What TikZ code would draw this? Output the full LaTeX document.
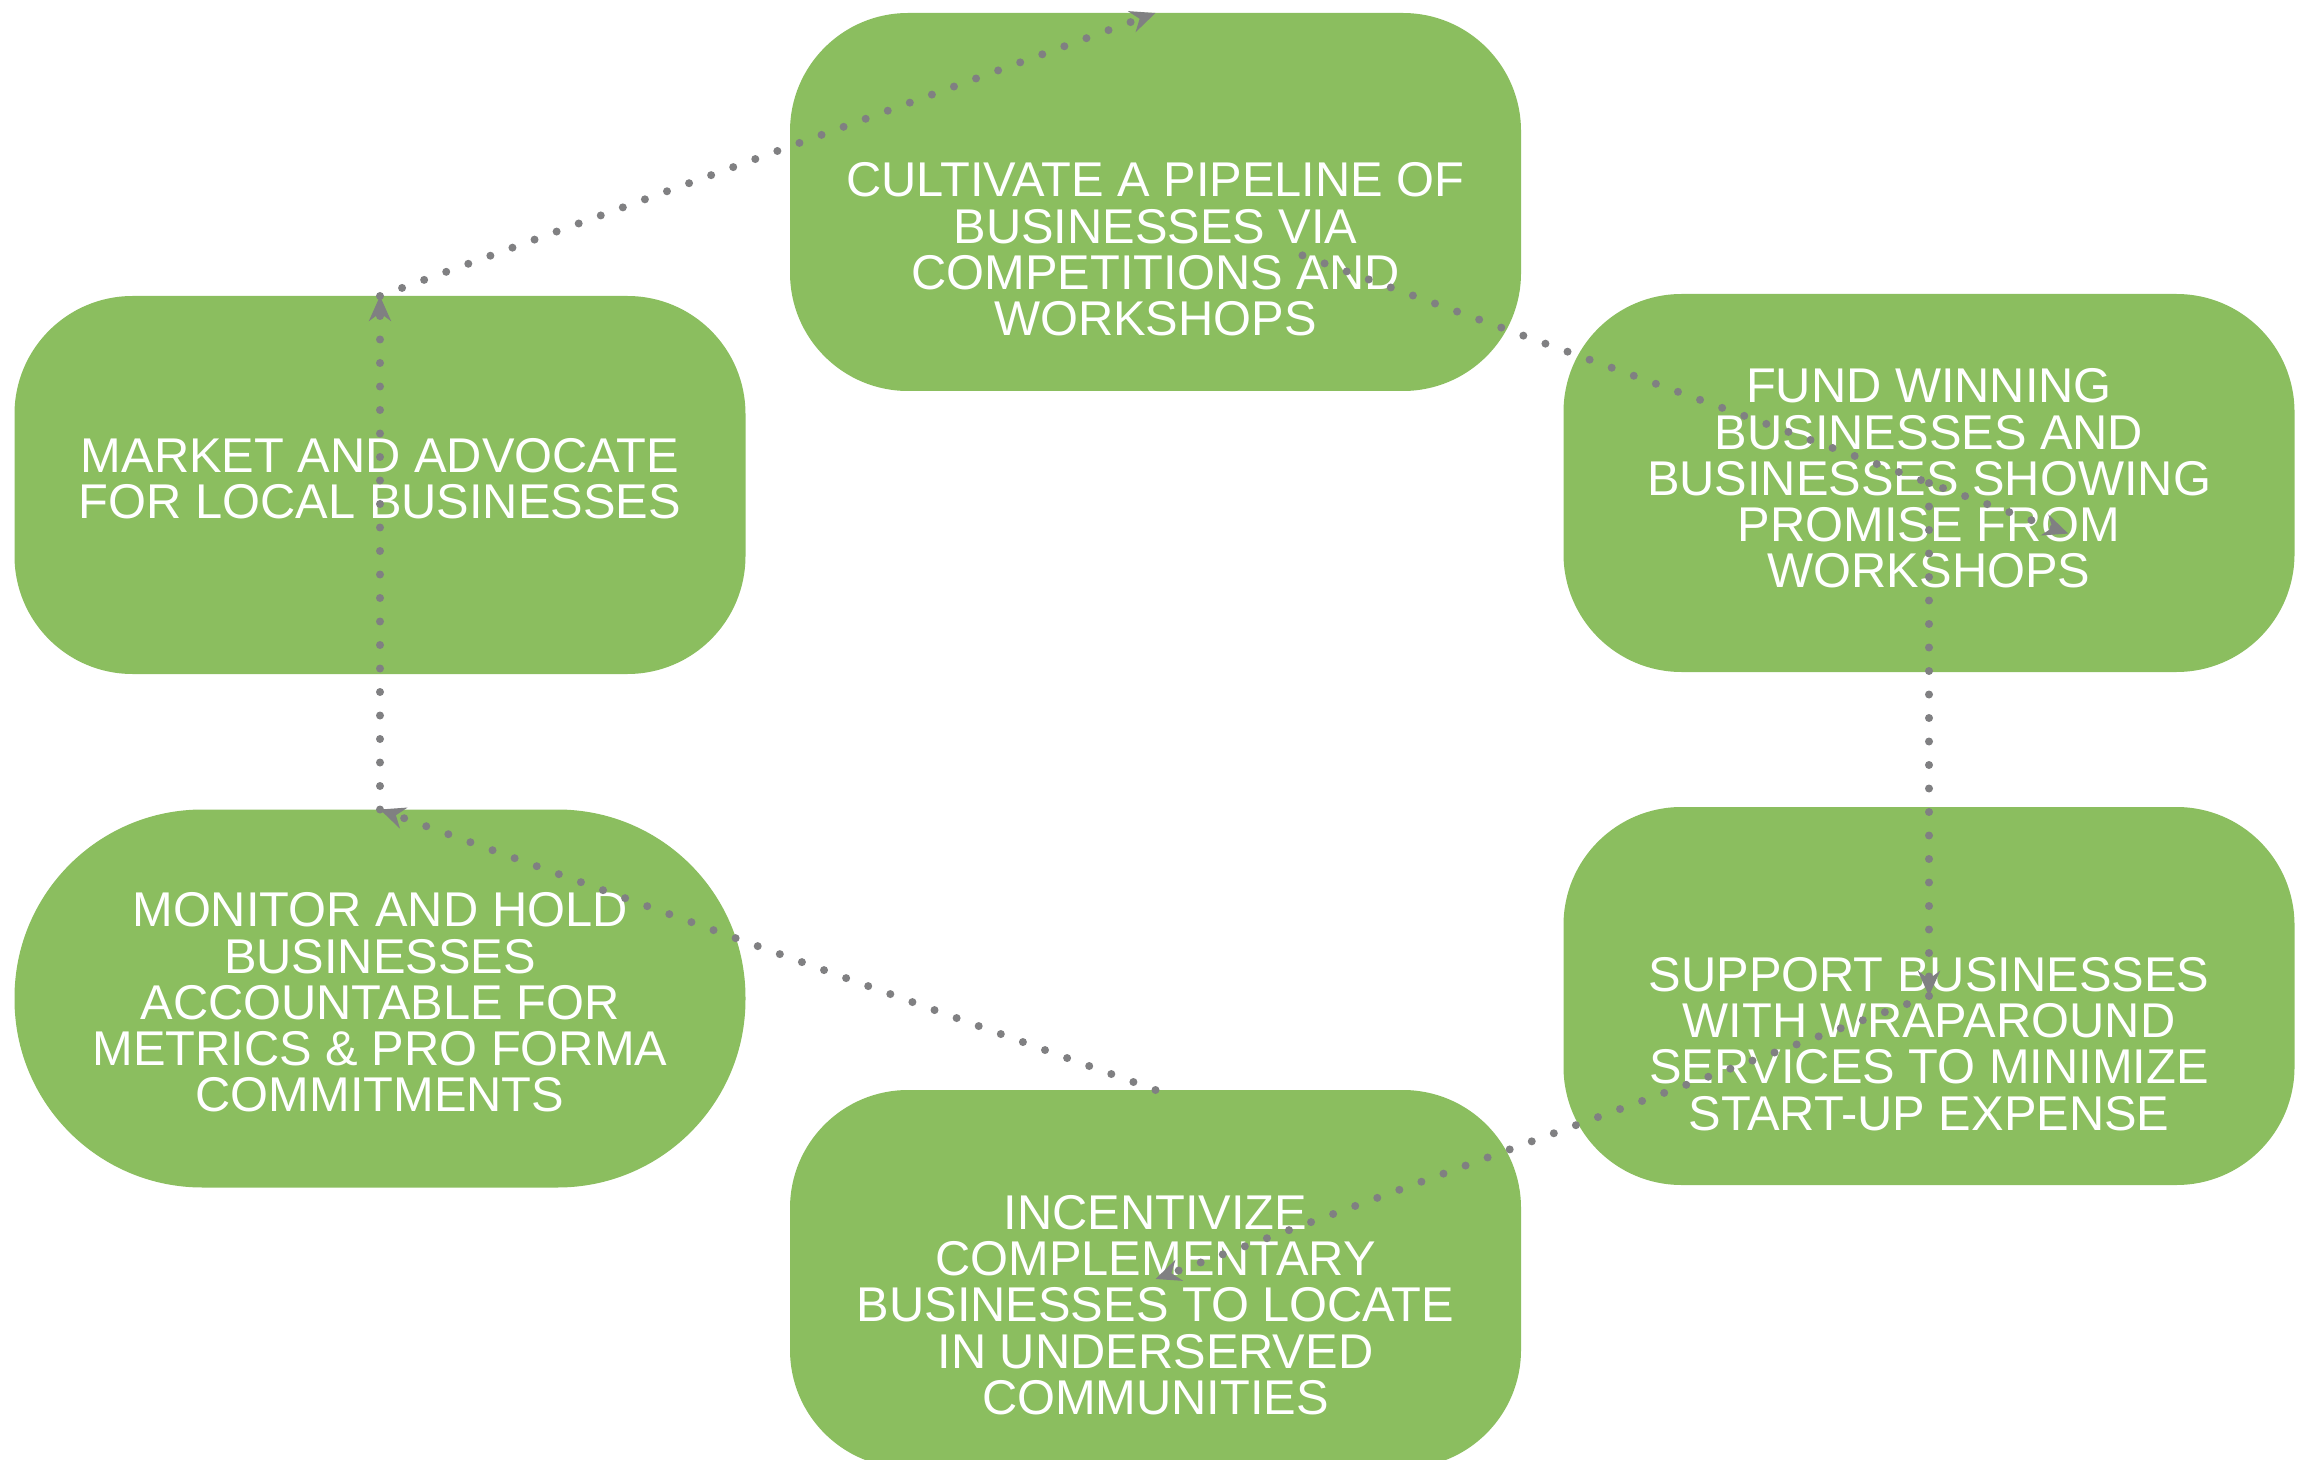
\documentclass[tikz,border=0pt]{standalone}
\usepackage{fontspec}
\setmainfont{Liberation Sans}
\usepackage{tikz}
\usetikzlibrary{arrows.meta,calc}
\definecolor{vert}{RGB}{139,190,95}
\definecolor{gris}{RGB}{128,128,130}
\tikzstyle{bloc} = [rectangle, rounded corners=59pt, fill=vert, minimum width=365.5pt, minimum height=189pt, outer sep=0pt]
\tikzstyle{texte} = [text=white, align=center, font=\fontsize{24.4}{23.1}\selectfont]
\tikzstyle{fleche} = [draw=gris, line width=4pt, line cap=round, dash pattern=on 0pt off 11.75pt, -{Stealth[length=12.5pt, width=11pt]}]

\begin{document}
\begin{tikzpicture}[x=0.5pt, y=-0.5pt]
    \useasboundingbox (0,0) rectangle (2303,1460);

    \node [bloc, label={[texte, yshift=-23.75pt]center:{CULTIVATE A PIPELINE OF\\BUSINESSES VIA\\COMPETITIONS AND\\WORKSHOPS}}] (cultiver) at (1155.5,202) {};
    \node [bloc, label={[texte, yshift=2.25pt]center:{FUND WINNING\\BUSINESSES AND\\BUSINESSES SHOWING\\PROMISE FROM\\WORKSHOPS}}] (financer) at (1929,483) {};
    \node [bloc, label={[texte, yshift=-24pt]center:{SUPPORT BUSINESSES\\WITH WRAPAROUND\\SERVICES TO MINIMIZE\\START-UP EXPENSE}}] (soutenir) at (1929,996) {};
    \node [bloc, label={[texte, yshift=-13pt]center:{INCENTIVIZE\\COMPLEMENTARY\\BUSINESSES TO LOCATE\\IN UNDERSERVED\\COMMUNITIES}}] (inciter) at (1155.5,1279) {};
    \node [bloc, rounded corners=94pt, label={[texte, yshift=-2pt]center:{MONITOR AND HOLD\\BUSINESSES\\ACCOUNTABLE FOR\\METRICS \& PRO FORMA\\COMMITMENTS}}] (suivre) at (380,998.5) {};
    \node [bloc, label={[texte, yshift=3pt]center:{MARKET AND ADVOCATE\\FOR LOCAL BUSINESSES}}] (promouvoir) at (380,485) {};

    % liaisons en pointilles
    \draw [fleche] ($(cultiver)!0.19!(financer)$) -- ($(cultiver)!1.18!(financer)$);
    \draw [fleche] (financer.center) -- (soutenir.center);
    \draw [fleche] (soutenir.center) -- (inciter.center);
    \draw [fleche] (inciter.north) -- (suivre.north);
    \draw [fleche] (suivre.north) -- (promouvoir.north);
    \draw [fleche] (promouvoir.north) -- (cultiver.north);
\end{tikzpicture}
\end{document}
